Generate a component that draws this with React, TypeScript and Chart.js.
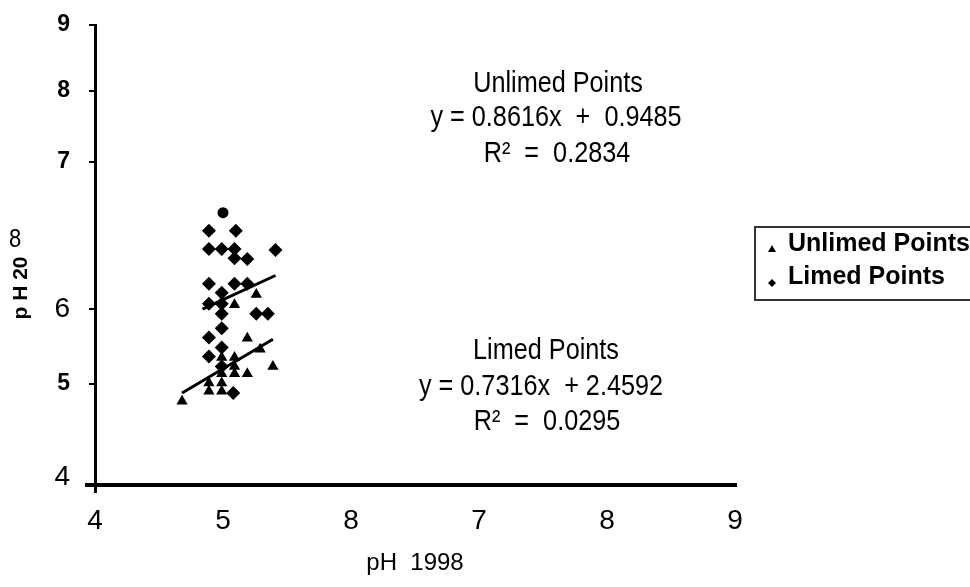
import React, { useEffect, useRef } from 'react';
import { Chart, registerables } from 'chart.js';

Chart.register(...registerables);

// ---- data ----
const xTickValues = [4, 5, 6, 7, 8, 9];
const xTickLabels = ['4', '5', '8', '7', '8', '9'];
const yTickValues = [4.08, 5.11, 5.93, 7.55, 8.33, 9.05];
const yTickLabels = ['4', '5', '6', '7', '8', '9'];

const limedX = [5.0, 4.89, 5.1, 4.89, 4.99, 5.09, 5.41, 5.09, 5.19, 4.89, 5.09, 5.19, 4.99, 4.89, 4.99, 4.99, 5.26, 5.35, 4.99, 4.89, 4.99, 4.89, 4.99, 5.08];
const limedY = [6.99, 6.79, 6.79, 6.59, 6.59, 6.59, 6.58, 6.49, 6.48, 6.21, 6.21, 6.21, 6.11, 5.99, 5.99, 5.88, 5.88, 5.88, 5.72, 5.62, 5.51, 5.41, 5.3, 5.01];

const unlimedX = [5.26, 5.09, 5.19, 5.29, 4.99, 5.09, 5.09, 5.39, 4.99, 5.09, 5.19, 4.89, 4.99, 4.89, 4.99, 4.68];
const unlimedY = [6.09, 5.98, 5.61, 5.49, 5.4, 5.4, 5.3, 5.3, 5.22, 5.22, 5.22, 5.12, 5.12, 5.03, 5.03, 4.92];

const upperTrendX = [4.84, 5.41];
const upperTrendY = [5.93, 6.3];
const lowerTrendX = [4.68, 5.39];
const lowerTrendY = [5.01, 5.6];

const xTitle = 'pH  1998';
const yTitle = 'p H 20';
const yTitleExtra = '8';
const unlimedNote = ['Unlimed Points', 'y = 0.8616x  +  0.9485', 'R²  =  0.2834'];
const limedNote = ['Limed Points', 'y = 0.7316x  + 2.4592', 'R²  =  0.0295'];
const legendLabels = ['Unlimed Points', 'Limed Points'];

// ---- styles ----
const NARROW = "'Liberation Sans Narrow', 'Arial Narrow', 'Liberation Sans', Arial, sans-serif";
const BOLDF = "'Liberation Sans', Arial, Helvetica, sans-serif";
const yTickBold = [false, true, false, true, true, true];

const toPts = (xs: number[], ys: number[]) => xs.map((x, i) => ({ x, y: ys[i] }));

const decorPlugin = {
  id: 'decor',
  afterDraw(chart: any) {
    const ctx = chart.ctx as CanvasRenderingContext2D;
    const xs = chart.scales.x;
    const ys = chart.scales.y;
    ctx.save();
    ctx.strokeStyle = '#000';
    ctx.lineWidth = 4;
    const ay = ys.getPixelForValue(4);
    const ax = xs.getPixelForValue(4);
    ctx.beginPath();
    ctx.moveTo(ax - 10, ay);
    ctx.lineTo(ax, ay);
    ctx.stroke();

    // y title
    ctx.fillStyle = '#000';
    ctx.save();
    ctx.translate(21, 288);
    ctx.rotate(-Math.PI / 2);
    ctx.font = `bold 21px ${BOLDF}`;
    ctx.textAlign = 'center';
    ctx.textBaseline = 'middle';
    ctx.fillText(yTitle, 0, 0);
    ctx.restore();
    ctx.save();
    ctx.translate(15, 240);
    ctx.scale(0.88, 1);
    ctx.font = `25px ${NARROW}`;
    ctx.textAlign = 'center';
    ctx.textBaseline = 'middle';
    ctx.fillText(yTitleExtra, 0, 0);
    ctx.restore();

    // notes (condensed)
    const drawNote = (lines: string[], cx: number[], cy: number[]) => {
      lines.forEach((t, i) => {
        ctx.save();
        ctx.translate(cx[i], cy[i]);
        ctx.scale(0.87, 1);
        ctx.font = `29px ${NARROW}`;
        ctx.textAlign = 'center';
        ctx.textBaseline = 'middle';
        ctx.fillText(t, 0, 0);
        ctx.restore();
      });
    };
    drawNote(unlimedNote, [558, 556, 557], [84, 118, 154]);
    drawNote(limedNote, [546, 541, 547], [351, 387, 422]);

    // legend
    ctx.strokeStyle = '#333';
    ctx.lineWidth = 2;
    ctx.strokeRect(755, 227, 230, 73);
    ctx.font = `bold 25px ${BOLDF}`;
    ctx.textAlign = 'left';
    ctx.textBaseline = 'middle';
    ctx.fillText(legendLabels[0], 788, 244);
    ctx.fillText(legendLabels[1], 788, 277);
    ctx.beginPath();
    ctx.moveTo(772, 245);
    ctx.lineTo(776, 252);
    ctx.lineTo(768, 252);
    ctx.closePath();
    ctx.fill();
    ctx.beginPath();
    ctx.moveTo(772, 279);
    ctx.lineTo(776, 283);
    ctx.lineTo(772, 287);
    ctx.lineTo(768, 283);
    ctx.closePath();
    ctx.fill();
    ctx.restore();
  },
};

export default function App() {
  const ref = useRef<HTMLCanvasElement>(null);
  useEffect(() => {
    const canvas = ref.current!;
    const chart = new Chart(canvas, {
      type: 'scatter',
      data: {
        datasets: [
          {
            label: 'Limed Points',
            data: toPts(limedX, limedY),
            pointStyle: limedX.map((_, i) => (i === 0 ? 'circle' : 'rectRot')) as any,
            pointRadius: limedX.map((_, i) => (i === 0 ? 5.5 : 7)),
            backgroundColor: '#000',
            borderColor: '#000',
            borderWidth: 0,
          },
          {
            label: 'Unlimed Points',
            data: toPts(unlimedX, unlimedY),
            pointStyle: 'triangle',
            pointRadius: 6.5,
            backgroundColor: '#000',
            borderColor: '#000',
            borderWidth: 0,
          },
          {
            label: 'Unlimed trend',
            data: toPts(upperTrendX, upperTrendY),
            showLine: true,
            borderColor: '#000',
            borderWidth: 3,
            pointRadius: 0,
          },
          {
            label: 'Limed trend',
            data: toPts(lowerTrendX, lowerTrendY),
            showLine: true,
            borderColor: '#000',
            borderWidth: 3,
            pointRadius: 0,
          },
        ],
      },
      options: {
        responsive: false,
        animation: false,
        devicePixelRatio: 1,
        layout: { padding: { left: 0, right: 235, top: 25, bottom: 0 } },
        plugins: { legend: { display: false }, tooltip: { enabled: false } },
        scales: {
          x: {
            type: 'linear',
            position: 'bottom',
            min: 4,
            max: 9,
            afterBuildTicks: (s: any) => {
              s.ticks = xTickValues.map((v) => ({ value: v }));
            },
            afterFit: (s: any) => {
              s.height = 102;
              s.paddingLeft = 0;
              s.paddingRight = 0;
            },
            ticks: {
              autoSkip: false,
              maxRotation: 0,
              padding: 11,
              color: '#000',
              font: { family: NARROW, size: 28 },
              callback: (_v: any, i: number) => xTickLabels[i],
            },
            grid: {
              drawOnChartArea: false,
              drawTicks: true,
              tickLength: 8,
              lineWidth: 3,
              color: (c: any) => (c.index === 0 ? '#000' : 'rgba(0,0,0,0)'),
            },
            border: { display: true, color: '#000', width: 4 },
            title: {
              display: true,
              text: xTitle,
              color: '#000',
              font: { family: NARROW, size: 24 },
              padding: { top: 0, bottom: 9 },
            },
          },
          y: {
            type: 'linear',
            min: 4,
            max: 9.05,
            afterBuildTicks: (s: any) => {
              s.ticks = yTickValues.map((v) => ({ value: v }));
            },
            afterFit: (s: any) => {
              s.width = 95;
              s.paddingTop = 0;
              s.paddingBottom = 0;
            },
            ticks: {
              autoSkip: false,
              padding: 19,
              color: '#000',
              font: (c: any) =>
                yTickBold[c.index]
                  ? { family: BOLDF, size: 23, weight: 'bold' }
                  : { family: NARROW, size: 28, weight: 'normal' },
              callback: (_v: any, i: number) => yTickLabels[i],
            },
            grid: {
              drawOnChartArea: false,
              drawTicks: true,
              tickLength: 6,
              lineWidth: 2,
              color: (c: any) => (c.index === 0 ? 'rgba(0,0,0,0)' : '#000'),
            },
            border: { display: true, color: '#000', width: 3 },
          },
        },
      },
      plugins: [decorPlugin],
    });
    return () => chart.destroy();
  }, []);
  return (
    <div style={{ position: 'fixed', left: 0, top: 0, width: 970, height: 587, background: '#fff' }}>
      <canvas ref={ref} width={970} height={587} style={{ width: 970, height: 587 }} />
    </div>
  );
}
